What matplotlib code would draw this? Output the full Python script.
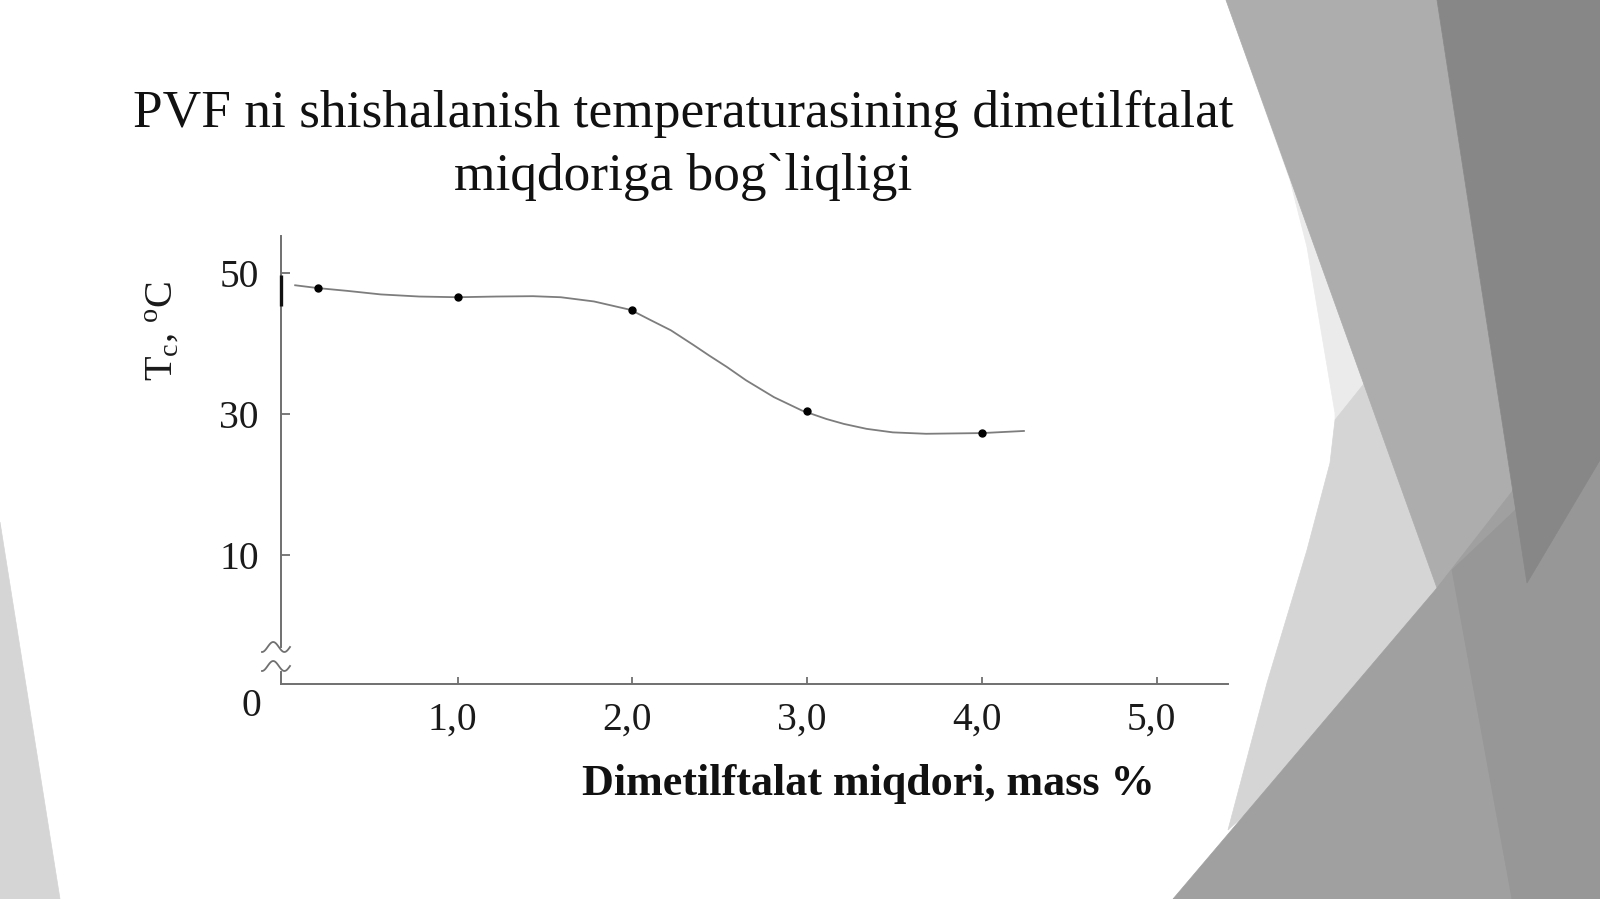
import numpy as np
import matplotlib.pyplot as plt
from matplotlib.patches import Polygon
from matplotlib.transforms import ScaledTranslation

plt.rcParams['font.family'] = ['Liberation Serif', 'DejaVu Serif']
plt.rcParams['mathtext.fontset'] = 'custom'
plt.rcParams['mathtext.rm'] = 'Liberation Serif'
plt.rcParams['mathtext.it'] = 'Liberation Serif:italic'

# measured points (dimetilftalat, mass % -> Tc, C)
point_x = [0.2, 1.0, 2.0, 3.0, 4.0]
point_y = [47.9, 46.6, 44.8, 30.5, 27.3]

# smooth curve as drawn through the points
curve_x = [0.07, 0.20, 0.37, 0.56, 0.78, 1.00, 1.22, 1.43, 1.59, 1.78, 1.99, 2.10, 2.22,
           2.35, 2.44, 2.54, 2.65, 2.81, 2.97, 3.11, 3.21, 3.34, 3.49, 3.68, 4.00, 4.24]
curve_y = [48.3, 47.9, 47.5, 47.0, 46.7, 46.6, 46.7, 46.75, 46.6, 46.0, 44.8, 43.4, 41.9,
           39.8, 38.3, 36.7, 34.8, 32.4, 30.5, 29.3, 28.6, 27.9, 27.4, 27.2, 27.3, 27.6]

x_ticks = [1.0, 2.0, 3.0, 4.0, 5.0]
x_tick_labels = ['1,0', '2,0', '3,0', '4,0', '5,0']
y_ticks = [10, 30, 50]
y_tick_labels = ['10', '30', '50']

title_1 = 'PVF ni shishalanish temperaturasining dimetilftalat'
title_2 = 'miqdoriga bog`liqligi'
x_title = 'Dimetilftalat miqdori, mass %'
y_title = r'T$_{\mathregular{c}}$, $^{\mathregular{o}}$C'

axis_col = '#707070'

fig = plt.figure(figsize=(16, 8.99), dpi=100)

# slide background decoration (pixel coords), later shapes cover earlier ones
bg = fig.add_axes([0, 0, 1, 1])
bg.set_xlim(0, 1600)
bg.set_ylim(899, 0)
bg.axis('off')
shapes = [
    ([(0, 522), (60, 899), (0, 899)], '#d5d5d5'),
    ([(1226, 0), (1300, 0), (1400, 380), (1335, 420), (1335, 413), (1307, 247), (1290, 180)], '#ebebeb'),
    ([(1375, 370), (1480, 600), (1228, 830), (1267, 683), (1307, 550), (1330, 463), (1335, 420)], '#d5d5d5'),
    ([(1226, 0), (1437, 0), (1527, 583), (1437, 588)], '#adadad'),
    ([(1173, 899), (1437, 588), (1560, 430), (1600, 430), (1600, 899)], '#a0a0a0'),
    ([(1452, 570), (1600, 430), (1600, 899), (1512, 899)], '#979797'),
    ([(1437, 0), (1600, 0), (1600, 460), (1527, 583)], '#878787'),
]
for pts, col in shapes:
    bg.add_patch(Polygon(pts, closed=True, facecolor=col, edgecolor=col, lw=0.5))

# axis break marks
t = np.linspace(0, 1, 40)
for yc in [647, 666]:
    bg.plot(262 + 28 * t, yc - 5 * np.sin(2.5 * np.pi * t - np.pi / 2), color=axis_col, lw=1.3)

ax = fig.add_axes([281 / 1600, (899 - 684) / 899, (1227.7 - 281) / 1600, 448 / 899])
ax.set_facecolor('none')
ax.set_xlim(-0.011, 5.406)
ax.set_ylim(-8.35, 55.3)

ax.plot(curve_x, curve_y, color='#7d7d7d', lw=1.3, zorder=2, solid_joinstyle='round')
ax.plot(point_x, point_y, 'o', color='black', ms=5, zorder=3)

for s in ['top', 'right']:
    ax.spines[s].set_visible(False)
for s in ['left', 'bottom']:
    ax.spines[s].set_color(axis_col)
    ax.spines[s].set_linewidth(1.4)
ax.spines['left'].set_bounds(-3.1, 55.3)
ax.plot([0, 0], [-6.6, -8.35], transform=ax.get_yaxis_transform(), color=axis_col, lw=1.4, clip_on=False)
ax.plot([0, 0], [45.4, 49.7], transform=ax.get_yaxis_transform(), color='#111111', lw=2.4,
        clip_on=False, zorder=5, solid_capstyle='butt')

ax.set_xticks(x_ticks)
ax.set_xticklabels(x_tick_labels)
ax.set_yticks(y_ticks)
ax.set_yticklabels(y_tick_labels)
ax.tick_params(axis='x', direction='in', length=5, width=1.3, color=axis_col, pad=12.5, labelsize=28.5, labelcolor='#1a1a1a')
ax.tick_params(axis='y', direction='in', length=6.5, width=1.3, color=axis_col, pad=16, labelsize=28.5, labelcolor='#1a1a1a')
for lbl in ax.get_xticklabels():
    lbl.set_transform(lbl.get_transform() + ScaledTranslation(-0.05, 0, fig.dpi_scale_trans))

ax.annotate('0', xy=(0, 0), xycoords='axes fraction', xytext=(-21, -16.5), textcoords='offset points',
            ha='center', va='center', fontsize=28.5, color='#1a1a1a')

ax.set_xlabel(x_title, fontsize=31.8, fontweight='bold', color='#111111')
ax.xaxis.label.set_va('baseline')
ax.xaxis.set_label_coords(0.6205, -0.2478)
ax.set_ylabel(y_title, fontsize=29, color='#1a1a1a')
ax.yaxis.set_label_coords(-0.105, 0.788)

fig.text(683 / 1600, 1 - 127 / 899, title_1, ha='center', va='baseline', fontsize=38.4, color='#111111')
fig.text(683 / 1600, 1 - 190 / 899, title_2, ha='center', va='baseline', fontsize=38.4, color='#111111')

fig.savefig('out.png', dpi=100, facecolor='white')
